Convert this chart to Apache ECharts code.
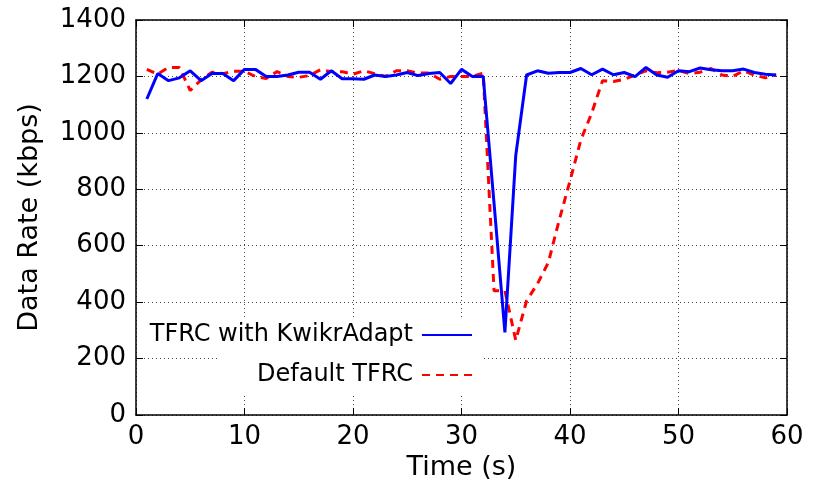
<!DOCTYPE html>
<html>
<head>
<meta charset="utf-8">
<script src="https://cdn.jsdelivr.net/npm/echarts@6/dist/echarts.min.js"></script>
<style>
  html, body { margin: 0; padding: 0; background: #fff; }
  #chart { width: 813px; height: 489px; }
</style>
</head>
<body>
<div id="chart"></div>
<script>
// Sample times (s)
const times = [1,2,3,4,5,6,7,8,9,10,11,12,13,14,15,16,17,18,19,20,
  21,22,23,24,25,26,27,28,29,30,31,32,33,34,35,36,37,38,39,40,
  41,42,43,44,45,46,47,48,49,50,51,52,53,54,55,56,57,58,59];

// Data rate (kbps) with KwikrAdapt
const kwikrRate = [1120,1210,1185,1195,1220,1185,1210,1210,1185,1225,
  1225,1200,1200,1205,1215,1215,1190,1220,1192,1192,
  1190,1205,1200,1205,1214,1203,1210,1214,1175,1225,
  1200,1200,750,293,920,1205,1220,1211,1214,1214,
  1228,1206,1226,1206,1214,1199,1232,1205,1197,1220,
  1217,1230,1224,1220,1220,1226,1214,1208,1205];

// Data rate (kbps) with default TFRC
const defaultRate = [1225,1208,1232,1232,1150,1188,1215,1210,1218,1218,
  1200,1193,1217,1200,1197,1203,1224,1217,1217,1208,
  1220,1210,1200,1220,1220,1212,1212,1190,1200,1200,
  1200,1212,440,440,265,405,465,540,690,830,
  975,1070,1185,1182,1190,1205,1220,1213,1215,1222,
  1210,1215,1228,1205,1200,1220,1205,1195,1205];

const seriesNames = ['TFRC with KwikrAdapt', 'Default TFRC'];
const xTicks = { min: 0, max: 60, step: 10 };
const yTicks = { min: 0, max: 1400, step: 200 };

const pairs = (xs, ys) => xs.map((x, i) => [x, ys[i]]);

const font = 'DejaVu Sans';
const gridLine = { show: true, lineStyle: { color: '#444', width: 1, type: [1, 3] } };
const frame = { show: true, onZero: false, lineStyle: { color: '#000', width: 1.5 } };
const ticks = { show: true, inside: true, length: 7, lineStyle: { color: '#000', width: 1 } };

const legendBase = {
  orient: 'vertical', align: 'right', right: 340,
  itemWidth: 50, itemHeight: 14, padding: 0,
  itemStyle: { opacity: 0 },
  textStyle: { fontFamily: font, fontSize: 24, color: '#000', padding: [0, 4, 0, 0] }
};

const chart = echarts.init(document.getElementById('chart'), null, { renderer: 'canvas' });

chart.setOption({
  animation: false,
  backgroundColor: '#fff',
  grid: { left: 136, right: 26, top: 20, bottom: 74, containLabel: false },
  graphic: [{
    type: 'rect', z: 1,
    shape: { x: 218, y: 318, width: 266, height: 78 },
    style: { fill: '#fff' }
  }],
  legend: [
    Object.assign({}, legendBase, { data: [seriesNames[0]], top: 323 }),
    Object.assign({}, legendBase, { data: [seriesNames[1]], top: 363 })
  ],
  xAxis: [
    {
      type: 'value', min: xTicks.min, max: xTicks.max, interval: xTicks.step,
      name: 'Time (s)', nameLocation: 'middle', nameGap: 37,
      nameTextStyle: { fontFamily: font, fontSize: 27, color: '#000' },
      axisLine: frame, axisTick: ticks,
      axisLabel: { fontFamily: font, fontSize: 26, color: '#000', margin: 9 },
      splitLine: gridLine
    },
    {
      type: 'value', position: 'top', min: xTicks.min, max: xTicks.max, interval: xTicks.step,
      axisLine: frame, axisTick: ticks,
      axisLabel: { show: false }, splitLine: { show: false }
    }
  ],
  yAxis: [
    {
      type: 'value', min: yTicks.min, max: yTicks.max, interval: yTicks.step,
      name: 'Data Rate (kbps)', nameLocation: 'middle', nameGap: 93, nameRotate: 90,
      nameTextStyle: { fontFamily: font, fontSize: 27, color: '#000' },
      axisLine: frame, axisTick: ticks,
      axisLabel: { fontFamily: font, fontSize: 26, color: '#000', margin: 10,
                   formatter: v => String(v) },
      splitLine: gridLine
    },
    {
      type: 'value', position: 'right', min: yTicks.min, max: yTicks.max, interval: yTicks.step,
      axisLine: frame, axisTick: ticks,
      axisLabel: { show: false }, splitLine: { show: false }
    }
  ],
  series: [
    {
      name: seriesNames[0], type: 'line', data: pairs(times, kwikrRate),
      symbol: 'none', z: 4,
      lineStyle: { color: '#0000ff', width: 3 },
      itemStyle: { color: '#0000ff' }
    },
    {
      name: seriesNames[1], type: 'line', data: pairs(times, defaultRate),
      symbol: 'none', z: 3,
      lineStyle: { color: '#ff0000', width: 3, type: [8, 6] },
      itemStyle: { color: '#ff0000' }
    }
  ]
});
</script>
</body>
</html>
